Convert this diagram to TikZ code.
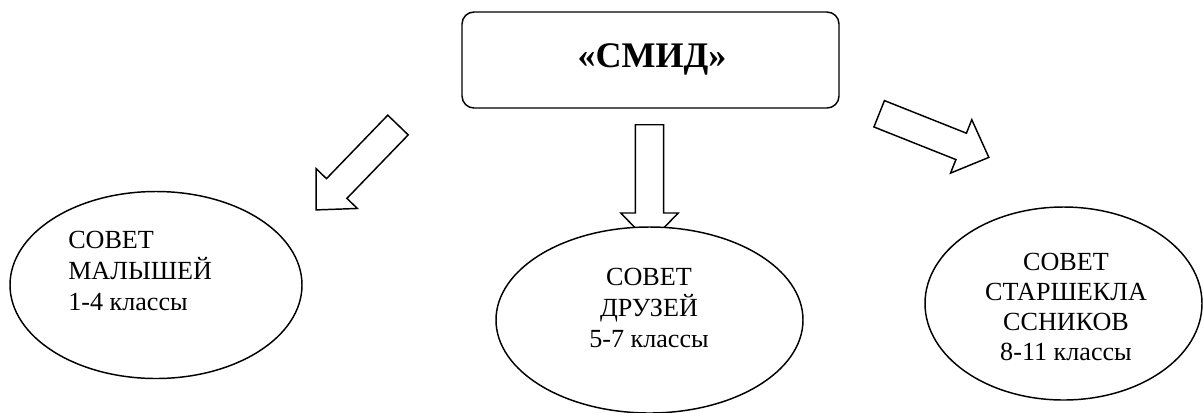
\documentclass[tikz,border=0pt]{standalone}
\usepackage{fontspec}
\setmainfont{Liberation Serif}
\usetikzlibrary{shapes.geometric,shapes.arrows}
\tikzset{
  lw/.style={line width=1.1pt},
  topbox/.style={lw, draw, rounded corners=9pt, minimum width=282.75pt, minimum height=72pt, inner sep=0pt, fill=white},
  council/.style={lw, draw, ellipse, fill=white, inner sep=0pt},
  blockarrow/.style={lw, draw, fill=white, single arrow, inner sep=0pt, inner ysep=10.1pt,
    single arrow head extend=10.9pt, single arrow tip angle=88, minimum height=88.5pt, anchor=tail},
  ctext/.style={font=\fontsize{19.6}{23.25}\selectfont, inner sep=0pt},
  title/.style={font=\fontsize{27}{30}\selectfont\bfseries, inner sep=0pt, anchor=base}
}
\begin{document}
\begin{tikzpicture}[x=0.75pt,y=-0.75pt]
\useasboundingbox (0,0) rectangle (1203,412);
\node[topbox] (smid) at (650.5,60) {};
\node[title] (smidt) at (652,67) {«СМИД»};
% arrows
\node[blockarrow, rotate=-134] (a1) at (398.5,124.5) {};
\node[blockarrow, rotate=-90] (a2) at (649.5,124) {};
\node[blockarrow, rotate=-21.7] (a3) at (878.5,113.5) {};
% ellipses
\node[council, minimum width=219pt, minimum height=140.25pt] (e1) at (156,285) {};
\node[council, minimum width=230.25pt, minimum height=139.5pt] (e2) at (649.5,320) {};
\node[council, minimum width=207.75pt, minimum height=144.75pt] (e3) at (1063.5,303.5) {};
% texts (base anchor = last line)
\node[ctext, align=left, anchor=base west] (t1) at (68,310) {СОВЕТ\\МАЛЫШЕЙ\\1-4 классы};
\node[ctext, align=center, anchor=base] (t2) at (649,347) {СОВЕТ\\ДРУЗЕЙ\\5-7 классы};
\node[ctext, align=center, anchor=base, font=\fontsize{19.6}{22.5}\selectfont] (t3) at (1066,360) {СОВЕТ\\СТАРШЕКЛА\\ССНИКОВ\\8-11 классы};
\end{tikzpicture}
\end{document}
